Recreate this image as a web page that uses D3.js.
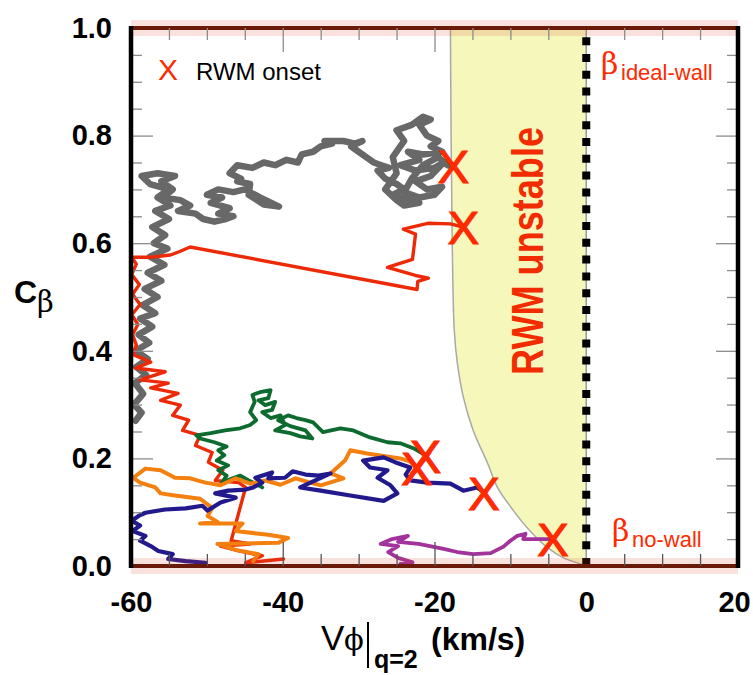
<!DOCTYPE html>
<html>
<head>
<meta charset="utf-8">
<script src="https://cdn.jsdelivr.net/npm/d3@7"></script>
<style>
  body { margin: 0; background: #fff; }
  svg { display: block; }
</style>
</head>
<body>
<script>
// ---- data ----
const xMajorTicks = [-60, -40, -20, 0, 20];
const xTickLabels = ['-60', '-40', '-20', '0', '20'];
const xMinorTicks = [-55, -50, -45, -35, -30, -25, -15, -10, -5, 5, 10, 15];
const yMajorTicks = [0, 0.2, 0.4, 0.6, 0.8, 1.0];
const yTickLabels = ['0.0', '0.2', '0.4', '0.6', '0.8', '1.0'];
const yMinorTicks = [0.05, 0.1, 0.15, 0.25, 0.3, 0.35, 0.45, 0.5, 0.55, 0.65, 0.7, 0.75, 0.85, 0.9, 0.95];

// stability boundary  [V, C]
const boundary = [[0,0],[-0.8,0.004],[-3.0,0.015],[-5.1,0.034],[-7.4,0.065],[-9.6,0.103],[-11.7,0.146],
  [-13.0,0.191],[-14.9,0.252],[-16.2,0.314],[-17.0,0.378],[-17.4,0.439],[-17.65,0.589],[-17.8,0.776],[-17.9,1.0]];

const traceGray = [[-59.4,0.27],[-58.6,0.285],[-59.6,0.30],[-58.4,0.32],[-59.5,0.34],[-58.0,0.355],[-59.3,0.37],
  [-57.8,0.385],[-59.4,0.40],[-57.6,0.415],[-59.0,0.43],[-57.2,0.445],[-58.8,0.46],[-56.8,0.47],[-58.5,0.485],
  [-56.5,0.50],[-58.2,0.515],[-56.0,0.53],[-57.8,0.545],[-55.6,0.56],[-57.5,0.575],[-55.2,0.59],[-57.0,0.60],
  [-55.5,0.615],[-57.2,0.63],[-55.0,0.645],[-56.8,0.66],[-54.8,0.67],[-56.5,0.685],[-55.0,0.70],[-57.5,0.71],
  [-58.6,0.725],[-56.5,0.73],[-54.2,0.725],[-56.0,0.715],[-54.5,0.70],[-55.8,0.685],[-53.5,0.68],[-52.2,0.67],
  [-53.8,0.66],[-51.5,0.655],[-50.5,0.645],[-49.0,0.64],[-47.5,0.645],[-46.5,0.65],[-48.5,0.655],[-47.0,0.665],
  [-49.5,0.675],[-48.0,0.685],[-50.0,0.69],[-48.5,0.70],[-46.5,0.695],[-45.0,0.70],[-43.0,0.685],[-41.5,0.675],
  [-40.5,0.668],[-42.5,0.672],[-44.5,0.69],[-44.3,0.71],[-46.0,0.715],[-45.5,0.72],[-47.0,0.73],[-46.0,0.745],
  [-44.0,0.74],[-42.5,0.75],[-41.0,0.745],[-39.5,0.755],[-38.0,0.75],[-37.5,0.765],[-36.0,0.77],[-35.0,0.78],
  [-33.5,0.785],[-34.5,0.79],[-32.0,0.79],[-30.5,0.785],[-29.5,0.79],[-31.0,0.78],[-30.0,0.77],[-29.0,0.76],
  [-28.0,0.75],[-27.0,0.745],[-26.0,0.74],[-27.5,0.735],[-26.5,0.72],[-25.0,0.71],[-24.0,0.70],[-25.5,0.69],
  [-23.5,0.68],[-22.0,0.675],[-24.0,0.67],[-25.0,0.68],[-26.5,0.70],[-25.0,0.73],[-25.5,0.76],[-24.0,0.79],
  [-25.0,0.81],[-23.0,0.82],[-21.5,0.835],[-20.5,0.83],[-22.0,0.82],[-21.0,0.80],[-19.5,0.79],[-20.5,0.78],
  [-19.0,0.77],[-21.5,0.765],[-23.5,0.77],[-22.0,0.755],[-24.5,0.745],[-22.5,0.735],[-20.0,0.74],[-18.8,0.75],
  [-20.5,0.725],[-22.5,0.715],[-21.0,0.70],[-19.0,0.705],[-20.0,0.69],[-22.0,0.685],[-24.0,0.695],[-23.0,0.72],
  [-21.5,0.745],[-19.5,0.76],[-18.3,0.745],[-17.8,0.744]];

const traceRed = [[-39.9,0.013],[-44.9,0.006],[-42.7,0.019],[-45.8,0.028],[-48.2,0.037],[-44.3,0.041],[-46.8,0.047],
  [-44.9,0.146],[-45.8,0.155],[-48.9,0.159],[-47.9,0.178],[-49.8,0.193],[-49.3,0.211],[-51.5,0.224],[-50.9,0.243],
  [-53.2,0.252],[-52.4,0.271],[-54.5,0.280],[-53.5,0.299],[-56.1,0.308],[-53.8,0.321],[-57.4,0.331],[-55.1,0.340],
  [-58.8,0.346],[-55.5,0.361],[-59.4,0.368],[-57.4,0.379],[-59.7,0.393],[-59.3,0.411],[-59.8,0.43],[-59.1,0.449],
  [-59.9,0.467],[-58.8,0.486],[-59.8,0.505],[-58.9,0.523],[-59.9,0.542],[-59.3,0.561],[-59.9,0.574],[-57.4,0.574],
  [-54.8,0.578],[-53.5,0.585],[-52.2,0.593],[-22.3,0.514],[-22.2,0.529],[-20.8,0.535],[-22.5,0.540],[-26.2,0.555],
  [-22.9,0.570],[-22.5,0.617],[-24.1,0.626],[-20.9,0.637],[-17.9,0.636],[-16.2,0.630]];

const traceGreen = [[-42.7,0.146],[-43.6,0.153],[-44.5,0.159],[-45.6,0.168],[-46.6,0.163],[-48.0,0.155],[-47.4,0.168],
  [-48.5,0.178],[-47.2,0.187],[-48.7,0.196],[-47.7,0.206],[-48.5,0.215],[-47.4,0.222],[-49.0,0.230],[-50.9,0.237],
  [-51.4,0.243],[-49.5,0.247],[-47.6,0.252],[-45.6,0.256],[-44.3,0.262],[-43.5,0.271],[-44.3,0.286],[-43.7,0.305],
  [-44.0,0.318],[-43.0,0.323],[-41.6,0.327],[-41.9,0.312],[-43.2,0.308],[-42.3,0.299],[-41.0,0.305],[-41.4,0.290],
  [-42.7,0.286],[-41.6,0.275],[-40.3,0.280],[-39.7,0.262],[-41.0,0.252],[-39.0,0.247],[-37.7,0.241],[-36.1,0.237],
  [-37.0,0.252],[-39.0,0.260],[-40.6,0.271],[-39.3,0.280],[-38.2,0.275],[-37.0,0.271],[-36.0,0.267],[-34.7,0.249],
  [-32.4,0.256],[-30.7,0.252],[-28.5,0.239],[-26.2,0.230],[-24.5,0.228],[-22.8,0.219],[-21.2,0.206]];

const traceOrange = [[-43.9,0.009],[-43.2,0.022],[-46.2,0.030],[-48.6,0.041],[-40.6,0.043],[-39.3,0.052],[-41.9,0.058],
  [-46.2,0.065],[-45.3,0.079],[-50.9,0.079],[-48.6,0.082],[-49.9,0.093],[-49.3,0.108],[-50.9,0.125],[-54.2,0.131],
  [-56.1,0.135],[-56.8,0.146],[-58.8,0.155],[-59.7,0.164],[-58.1,0.181],[-56.1,0.178],[-54.2,0.164],[-52.2,0.163],
  [-50.2,0.155],[-48.2,0.150],[-46.2,0.163],[-44.3,0.153],[-42.3,0.159],[-40.3,0.151],[-38.3,0.163],[-36.4,0.155],
  [-35.0,0.150],[-32.0,0.163],[-33.7,0.172],[-31.8,0.196],[-31.1,0.215],[-28.9,0.209],[-26.5,0.204],[-24.5,0.200],
  [-23.2,0.194],[-22.3,0.183]];

const traceBlue = [[-50.2,0.006],[-52.8,0.009],[-55.1,0.013],[-54.5,0.022],[-56.4,0.028],[-57.4,0.037],[-58.8,0.047],
  [-58.1,0.056],[-59.8,0.065],[-58.8,0.075],[-59.9,0.084],[-59.0,0.093],[-58.1,0.099],[-55.5,0.105],[-52.8,0.107],
  [-50.6,0.112],[-49.9,0.103],[-48.2,0.118],[-46.2,0.127],[-48.9,0.135],[-47.2,0.140],[-44.9,0.142],[-43.9,0.146],
  [-42.7,0.155],[-43.6,0.164],[-41.4,0.174],[-41.9,0.163],[-39.7,0.164],[-38.7,0.176],[-37.0,0.170],[-35.3,0.168],
  [-33.7,0.172],[-35.7,0.159],[-37.7,0.146],[-35.0,0.140],[-31.1,0.131],[-26.7,0.121],[-24.9,0.135],[-25.8,0.150],
  [-27.5,0.164],[-26.2,0.178],[-28.5,0.183],[-29.4,0.196],[-26.7,0.202],[-25.2,0.193],[-23.2,0.183],[-23.8,0.170],
  [-23.2,0.159],[-20.9,0.155],[-17.9,0.153],[-16.2,0.140],[-14.4,0.146],[-13.3,0.136]];

const tracePurple = [[-24.5,0.004],[-22.9,0.007],[-24.8,0.015],[-26.1,0.026],[-24.8,0.037],[-27.1,0.041],[-25.6,0.050],
  [-23.5,0.056],[-24.8,0.045],[-22.1,0.041],[-20.6,0.037],[-18.8,0.032],[-17.0,0.026],[-14.9,0.022],[-12.6,0.024],
  [-10.9,0.036],[-10.0,0.047],[-9.1,0.056],[-8.0,0.060],[-8.3,0.050],[-6.1,0.050],[-4.5,0.050]];

const onsetV = [-17.5, -16.2, -21.2, -22.3, -13.5, -4.4];
const onsetC = [0.744, 0.630, 0.205, 0.182, 0.135, 0.050];

const traces = [
  {pts: traceGray,   color: '#686868', w: 6.5},
  {pts: traceRed,    color: '#ec2a08', w: 3.4},
  {pts: traceGreen,  color: '#0e6b2f', w: 3.8},
  {pts: traceOrange, color: '#f4800f', w: 4},
  {pts: traceBlue,   color: '#221a8c', w: 4.2},
  {pts: tracePurple, color: '#a2339c', w: 3.8}
];

// ---- layout ----
const W = 753, H = 675;
const mLeft = 131, mRight = 738, mTop = 28, mBottom = 566;

const svg = d3.select('body').append('svg').attr('width', W).attr('height', H);

const x = d3.scaleLinear().domain([-60, 20]).range([mLeft, mRight]);
const y = d3.scaleLinear().domain([0, 1]).range([mBottom, mTop]);

const font = "'Liberation Sans', Arial, Helvetica, sans-serif";
const serif = "'DejaVu Serif', 'Liberation Serif', serif";
const red = '#ff2a00';

// unstable region
svg.append('path')
  .datum(boundary)
  .attr('d', d3.area().curve(d3.curveCatmullRom)
    .y(d => y(d[1])).x0(d => x(d[0])).x1(x(0)))
  .attr('fill', '#f6f7bb');

svg.append('path')
  .datum(boundary)
  .attr('d', d3.line().curve(d3.curveCatmullRom).x(d => x(d[0])).y(d => y(d[1])))
  .attr('fill', 'none').attr('stroke', '#a8a8a8').attr('stroke-width', 1.5);

// ideal-wall limit at V=0
svg.append('line')
  .attr('x1', x(0)).attr('x2', x(0)).attr('y1', mTop).attr('y2', mBottom)
  .attr('stroke', '#9a9a9a').attr('stroke-width', 1.5);
svg.append('line')
  .attr('x1', x(0)).attr('x2', x(0)).attr('y1', mBottom).attr('y2', mTop + 4)
  .attr('stroke', '#000').attr('stroke-width', 8)
  .attr('stroke-dasharray', '8,8.8');

// traces
const line = d3.line().x(d => x(d[0])).y(d => y(d[1]));
svg.append('g').selectAll('path')
  .data(traces).enter()
  .append('path')
  .attr('d', d => line(d.pts))
  .attr('fill', 'none')
  .attr('stroke', d => d.color)
  .attr('stroke-width', d => d.w)
  .attr('stroke-linejoin', 'round')
  .attr('stroke-linecap', 'round');

// onset markers
svg.append('g').selectAll('text')
  .data(onsetV).enter()
  .append('text')
  .attr('x', d => x(d))
  .attr('y', (d, i) => y(onsetC[i]))
  .attr('dy', '0.36em')
  .attr('text-anchor', 'middle')
  .style('font-family', font)
  .style('font-size', '47px')
  .style('fill', red)
  .style('stroke', red)
  .style('stroke-width', 1.2)
  .text('X');

// beta limits (C=0 and C=1)
[0, 1].forEach(function (c) {
  svg.append('rect')
    .attr('x', mLeft).attr('width', mRight - mLeft)
    .attr('y', y(c) - 8).attr('height', 16)
    .attr('fill', 'rgba(215,70,50,0.16)');
  svg.append('line')
    .attr('x1', mLeft).attr('x2', mRight).attr('y1', y(c)).attr('y2', y(c))
    .attr('stroke', '#6a1a08').attr('stroke-width', 4);
});

// ticks (inward)
function tickGroup(axis, tx, ty, values, size, color) {
  const g = svg.append('g')
    .attr('transform', 'translate(' + tx + ',' + ty + ')')
    .call(axis.tickValues(values).tickSize(size).tickFormat(''));
  g.select('.domain').remove();
  g.selectAll('line').attr('stroke', color).attr('stroke-width', 1.3);
}
const tickCol = '#8c8c8c';
tickGroup(d3.axisRight(y), mLeft, 0, yMinorTicks, 11, tickCol);
tickGroup(d3.axisRight(y), mLeft, 0, yMajorTicks.slice(1, 5), 22, tickCol);
tickGroup(d3.axisLeft(y), mRight, 0, yMinorTicks, 11, tickCol);
tickGroup(d3.axisLeft(y), mRight, 0, yMajorTicks.slice(1, 5), 22, tickCol);
tickGroup(d3.axisBottom(x), 0, mTop, xMinorTicks, 12, tickCol);
tickGroup(d3.axisBottom(x), 0, mTop, [-40, -20], 24, tickCol);
tickGroup(d3.axisTop(x), 0, mBottom, xMinorTicks, 12, '#555');
tickGroup(d3.axisTop(x), 0, mBottom, [-40, -20], 24, '#555');

// frame verticals
svg.append('line').attr('x1', mLeft).attr('x2', mLeft).attr('y1', mTop - 2).attr('y2', mBottom + 2)
  .attr('stroke', '#000').attr('stroke-width', 4.5);
svg.append('line').attr('x1', mRight).attr('x2', mRight).attr('y1', mTop - 2).attr('y2', mBottom + 2)
  .attr('stroke', '#000').attr('stroke-width', 4.5);

// tick labels
const yLab = svg.append('g')
  .attr('transform', 'translate(' + mLeft + ',0)')
  .call(d3.axisLeft(y).tickValues(yMajorTicks).tickSize(0).tickPadding(19)
    .tickFormat((d, i) => yTickLabels[i]));
yLab.select('.domain').remove();
yLab.selectAll('text')
  .style('font-family', font).style('font-size', '29px').style('font-weight', 'bold').style('fill', '#000');

const xLab = svg.append('g')
  .attr('transform', 'translate(0,' + mBottom + ')')
  .call(d3.axisBottom(x).tickValues(xMajorTicks).tickSize(0).tickPadding(25)
    .tickFormat((d, i) => xTickLabels[i]));
xLab.select('.domain').remove();
xLab.selectAll('text')
  .style('font-family', font).style('font-size', '29px').style('font-weight', 'bold').style('fill', '#000');
// last label sits against the page edge
xLab.selectAll('text').filter(d => d === 20).attr('x', -4);

// axis titles
const xt = svg.append('text').attr('y', 650).style('fill', '#000');
xt.append('tspan').attr('x', 321).style('font-family', font).style('font-size', '35px').text('V');
xt.append('tspan').attr('x', 344).style('font-family', serif).style('font-size', '29px').text('\u03d5');
xt.append('tspan').attr('x', 374).attr('y', 668).style('font-family', font).style('font-size', '25px')
  .style('font-weight', 'bold').text('q=2');
xt.append('tspan').attr('x', 431).attr('y', 650).style('font-family', font).style('font-size', '32px')
  .style('font-weight', 'bold').text('(km/s)');
svg.append('line').attr('x1', 368).attr('x2', 368).attr('y1', 622).attr('y2', 668)
  .attr('stroke', '#000').attr('stroke-width', 2);

const yt = svg.append('text').attr('y', 303).style('fill', '#000');
yt.append('tspan').attr('x', 14).style('font-family', font).style('font-size', '32px')
  .style('font-weight', 'bold').text('C');
yt.append('tspan').attr('x', 37).attr('y', 312).style('font-family', serif).style('font-size', '29px').text('\u03b2');

// region label
svg.append('text')
  .attr('transform', 'translate(543,251) rotate(-90)')
  .attr('text-anchor', 'middle')
  .attr('textLength', 248).attr('lengthAdjust', 'spacingAndGlyphs')
  .style('font-family', font).style('font-size', '44px').style('font-weight', 'bold')
  .style('fill', '#f22c00')
  .text('RWM unstable');

// beta labels
function betaLabel(bx, by, sub) {
  const t = svg.append('text').style('fill', red);
  t.append('tspan').attr('x', bx).attr('y', by - 6).style('font-family', serif).style('font-size', '30px').text('\u03b2');
  t.append('tspan').attr('x', bx + 20).attr('y', by).style('font-family', font).style('font-size', '22px').text(sub);
}
betaLabel(601, 80, 'ideal-wall');
betaLabel(612, 547, 'no-wall');

// legend
svg.append('text').attr('x', 168).attr('y', 80).attr('text-anchor', 'middle')
  .style('font-family', font).style('font-size', '30px').style('fill', red).text('X');
svg.append('text').attr('x', 196).attr('y', 80)
  .style('font-family', font).style('font-size', '24px').style('fill', '#000').text('RWM onset');
</script>
</body>
</html>
